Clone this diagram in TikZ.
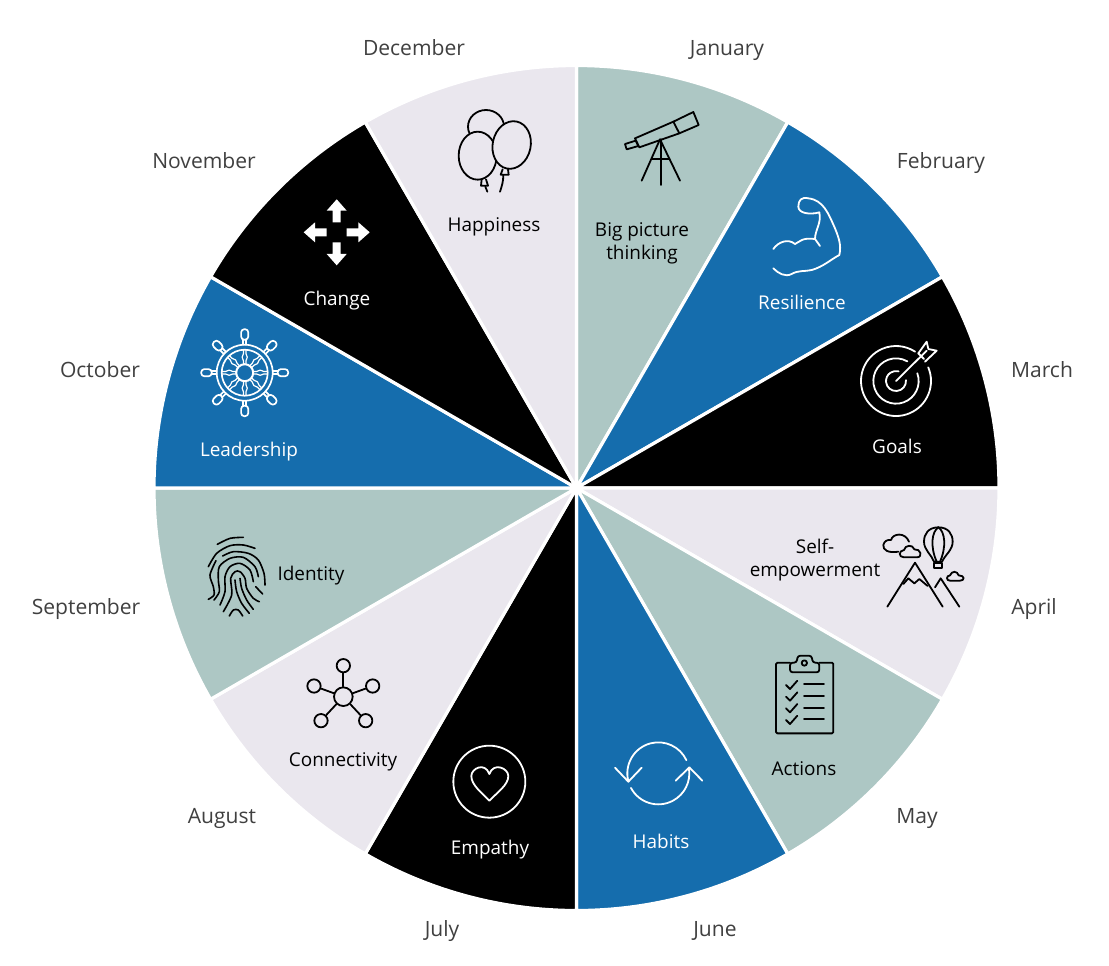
\documentclass[tikz,border=0pt]{standalone}
\usepackage{fontspec}
\setmainfont{Open Sans}
\definecolor{lav}{HTML}{EAE7EE}
\definecolor{sage}{HTML}{ADC7C4}
\definecolor{wblue}{HTML}{156DAD}
\definecolor{greytext}{HTML}{404040}

\begin{document}
\begin{tikzpicture}[x=0.75pt, y=-0.75pt,
    month/.style={text=greytext, font=\fontsize{15.8}{17}\selectfont, inner sep=0pt,
        text height=11.4pt, text depth=3.4pt, yshift=-2pt},
    topic/.style={font=\fontsize{14.2}{17.3}\selectfont, align=center, inner sep=0pt,
        text height=10.2pt, text depth=3pt, yshift=-2pt},
    twolines/.style={text height=, text depth=, yshift=1pt},
    icon/.style={line width=1.35pt, line cap=round, line join=round},
    zoomed/.style={x=0.25pt, y=-0.25pt}]

    \useasboundingbox (0,0) rectangle (1109,965);

    % Wheel sectors, clockwise from the top
    \coordinate (hub) at (576.5,488);
    \foreach \a/\col in {-90/sage, -60/wblue, -30/black, 0/lav, 30/sage, 60/wblue,
                         90/black, 120/lav, 150/sage, 180/wblue, 210/black, 240/lav}
        \filldraw[fill=\col, draw=white, line width=2.4pt, line join=round]
            (hub) -- ++(\a:422.5) arc[start angle=\a, end angle=\a+30, radius=422.5] -- cycle;

    % Month names
    \node[month] (jan) at (727,47) {January};
    \node[month] (feb) at (941,160) {February};
    \node[month] (mar) at (1042,369) {March};
    \node[month] (apr) at (1034,606) {April};
    \node[month] (may) at (917,815) {May};
    \node[month] (jun) at (715,928) {June};
    \node[month] (jul) at (442,928) {July};
    \node[month] (aug) at (222,815) {August};
    \node[month] (sep) at (86,606) {September};
    \node[month] (oct) at (100,369) {October};
    \node[month] (nov) at (204,160) {November};
    \node[month] (dec) at (414,47) {December};

    % Topics
    \node[topic, twolines] (bigpicture) at (642,242) {Big picture\\thinking};
    \node[topic, text=white] (resilience) at (802,302) {Resilience};
    \node[topic, text=white] (goals) at (897,446) {Goals};
    \node[topic, twolines] (selfemp) at (815,559) {Self-\\empowerment};
    \node[topic] (actions) at (804,768) {Actions};
    \node[topic, text=white] (habits) at (661,841) {Habits};
    \node[topic, text=white] (empathy) at (490,847) {Empathy};
    \node[topic] (connectivity) at (343,759) {Connectivity};
    \node[topic] (identity) at (311,573) {Identity};
    \node[topic, text=white] (leadership) at (249,449) {Leadership};
    \node[topic, text=white] (change) at (337,298) {Change};
    \node[topic] (happiness) at (494,224) {Happiness};

    % Balloons and telescope
    \begin{scope}[shift={(440,90)}, zoomed, icon]
        \draw[fill=lav] (138,110) ellipse [x radius=54, y radius=50];
        \draw[fill=lav] (113,197) ellipse [x radius=57, y radius=72];
        \draw[fill=lav, rotate around={-12:(215,165)}] (215,165) ellipse [x radius=57, y radius=72];
        \draw (125,268) -- (123,287) -- (144,287) -- (138,268);
        \draw (188,238) -- (182,254) -- (206,254) -- (204,238);
        \draw (136,290) -- (142,305);
        \draw (190,255) .. controls (190,275) and (185,290) .. (180,305);
        \draw (585,145) -- (700,95) -- (718,130) -- (598,172) -- cycle;
        \draw (700,95) -- (760,66) -- (776,105) -- (718,130);
        \draw (555,162) -- (587,152) -- (595,168) -- (560,178) -- cycle;
        \draw (660,148) -- (605,272);
        \draw (660,148) -- (720,272);
        \draw (662,148) -- (662,285);
        \draw (637,208) -- (688,208);
    \end{scope}

    % Muscle and target
    \begin{scope}[shift={(760,180)}, zoomed, icon, draw=white]
        \draw (40,207) .. controls (55,185) and (85,175) .. (105,192)
            .. controls (120,185) and (125,172) .. (165,177) -- (180,198);
        \draw (165,177) .. controls (165,150) and (185,130) .. (178,97)
            .. controls (150,105) and (115,100) .. (115,80)
            .. controls (115,60) and (125,50) .. (145,55)
            .. controls (190,60) and (205,100) .. (225,145)
            .. controls (235,170) and (245,195) .. (238,225)
            .. controls (210,240) and (190,260) .. (155,270)
            .. controls (135,275) and (115,270) .. (95,282)
            .. controls (75,292) and (55,280) .. (40,265);
        \draw (408,603) ++(-23:105) arc[start angle=-23, end angle=303, radius=105];
        \draw (408,603) ++(-20:68) arc[start angle=-20, end angle=300, radius=68];
        \draw (408,603) ++(-5:30) arc[start angle=-5, end angle=285, radius=30];
        \draw (408,603) -- (500,512);
        \draw (475,520) -- (500,485) -- (505,507) -- (530,512) -- (495,545);
        \draw (475,520) -- (492,537);
    \end{scope}

    % Change arrows
    \begin{scope}[shift={(336.7,232.3)}, zoomed]
        \foreach \r in {0,90,180,270}
            \fill[white, rotate=\r] (0,-99) -- (30,-65) -- (12,-65) -- (12,-30)
                -- (-12,-30) -- (-12,-65) -- (-30,-65) -- cycle;
    \end{scope}

    % Ship wheel
    \begin{scope}[shift={(244.7,372.7)}, icon, draw=white, line width=1.25pt]
        \foreach \r in {0,45,...,315} {
            \draw[rotate=\r, rounded corners=2.4pt] (-3.6,33) rectangle (3.6,43.5);
            \draw[rotate=\r] (-1.5,28) -- (-1.5,33);
            \draw[rotate=\r] (1.5,28) -- (1.5,33);
            \draw[rotate=\r, line width=.9pt] (-1.3,8.5) -- (-1.3,12) -- (-2.6,15.5) -- (-1.3,19) -- (-1.3,23);
            \draw[rotate=\r, line width=.9pt] (1.3,8.5) -- (1.3,12) -- (2.6,15.5) -- (1.3,19) -- (1.3,23);
        }
        \draw (0,0) circle[radius=28];
        \draw (0,0) circle[radius=23];
        \draw[line width=1.5pt] (0,0) circle[radius=8.5];
    \end{scope}

    % Balloon over mountains and clipboard
    \begin{scope}[shift={(780,510)}, zoomed, icon]
        \draw (475,52) .. controls (445,52) and (432,72) .. (432,95)
            .. controls (432,120) and (455,135) .. (462,155) -- (486,155)
            .. controls (495,135) and (518,120) .. (518,95)
            .. controls (518,72) and (505,52) .. (475,52);
        \draw (475,52) .. controls (455,65) and (450,110) .. (470,155);
        \draw (475,52) .. controls (495,65) and (500,110) .. (480,155);
        \draw (462,158) rectangle (485,175);
        \draw (355,125) .. controls (325,130) and (308,120) .. (310,105)
            .. controls (312,92) and (325,88) .. (333,90)
            .. controls (338,70) and (375,65) .. (387,95);
        \draw (372,142) .. controls (355,142) and (355,122) .. (372,120)
            .. controls (375,105) and (398,102) .. (403,118)
            .. controls (422,115) and (430,142) .. (410,142) -- cycle;
        \draw (510,212) .. controls (498,212) and (498,197) .. (510,196)
            .. controls (515,182) and (532,182) .. (536,196)
            .. controls (555,196) and (555,212) .. (540,212) -- cycle;
        \draw (322,290) -- (405,158) -- (488,290);
        \draw (370,222) -- (385,205) -- (403,220) -- (418,207) -- (443,228);
        \draw (465,232) -- (482,205) -- (538,290);
        % clipboard
        \draw[rounded corners=1] (30,458) -- (-12,458) -- (-12,670) -- (160,670) -- (160,458) -- (118,458);
        \draw[rounded corners=2] (30,487) -- (30,458) -- (50,458) -- (53,437) -- (95,437)
            -- (98,458) -- (118,458) -- (118,487) -- cycle;
        \draw (73,459) circle[radius=8];
        \foreach \yy in {525,560,595,630} {
            \draw (18,\yy) -- (30,\yy+12) -- (52,\yy-13);
            \draw (72,\yy-2) -- (132,\yy-2);
        }
    \end{scope}

    % Fingerprint and network
    \begin{scope}[shift={(190,520)}, zoomed, icon, line width=1.2pt]
        \draw plot[smooth] coordinates {(82,73) (120,55) (160,52)};
        \draw plot[smooth] coordinates {(55,140) (80,100) (120,77) (160,75) (195,85)};
        \draw plot[smooth] coordinates {(98,108) (130,95) (175,100) (205,120) (222,160) (225,195)};
        \draw plot[smooth] coordinates {(78,122) (60,165) (70,200) (72,225) (55,238)};
        \draw plot[smooth] coordinates {(72,240) (88,215) (85,180) (88,140) (120,115) (160,112) (195,140) (205,170)};
        \draw plot[smooth] coordinates {(90,255) (105,215) (105,170) (120,140) (150,130) (180,150) (190,185)};
        \draw plot[smooth] coordinates {(100,275) (125,225) (122,175) (135,155) (150,155) (165,175) (170,205) (190,235) (208,245)};
        \draw plot[smooth] coordinates {(150,175) (155,205) (170,240) (190,268)};
        \draw plot[smooth] coordinates {(135,180) (140,215) (155,250) (178,280)};
        \draw (197,200) -- (218,222);
        \draw plot[smooth] coordinates {(118,288) (130,270) (145,270) (158,288)};
        \node[circle, draw, icon, inner sep=0pt, minimum size=14pt] (nmid) at (460,530) {};
        \foreach \n/\x/\y in {a/460/437, b/372/498, c/548/498, d/393/602, e/527/602} {
            \node[circle, draw, icon, inner sep=0pt, minimum size=10pt] (n\n) at (\x,\y) {};
            \draw[icon] (nmid) -- (n\n);
        }
    \end{scope}

    % Heart and habit loop
    \begin{scope}[shift={(440,730)}, zoomed, icon, draw=white]
        \draw (148,155) circle[radius=108];
        \draw (148,212) .. controls (125,188) and (94,165) .. (94,138)
            .. controls (94,115) and (135,95) .. (148,132)
            .. controls (161,95) and (205,115) .. (205,138)
            .. controls (205,165) and (171,188) .. (148,212) -- cycle;
        \draw (655,130) ++(165:93) arc[start angle=165, end angle=335, radius=93];
        \draw (655,130) ++(152:93) arc[start angle=152, end angle=-9, radius=93];
        \draw (525,113) -- (565,155) -- (605,113);
        \draw (707,152) -- (748,112) -- (787,152);
    \end{scope}
\end{tikzpicture}
\end{document}
